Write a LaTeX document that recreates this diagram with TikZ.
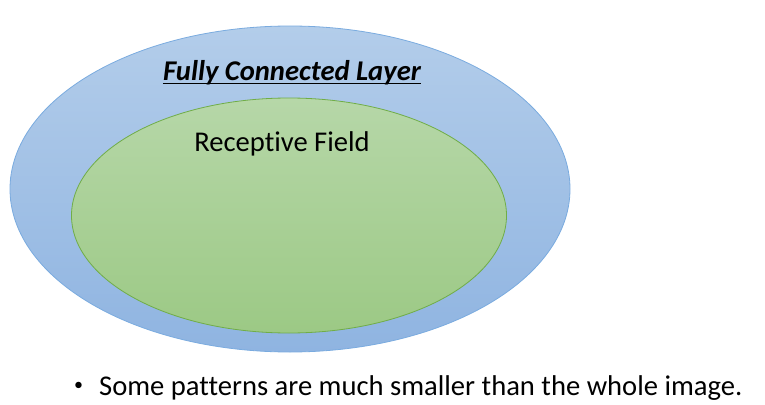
\documentclass[tikz,border=0pt]{standalone}
\usepackage{fontspec}
\setmainfont[Ligatures=NoCommon]{Carlito}
\usetikzlibrary{shapes.geometric}
\definecolor{outerTop}{HTML}{B3CDEA}
\definecolor{outerBot}{HTML}{8FB4E1}
\definecolor{outerLine}{HTML}{7AABDF}
\definecolor{innerTop}{HTML}{B6D7A8}
\definecolor{innerBot}{HTML}{9CC985}
\definecolor{innerLine}{HTML}{70AD47}
\tikzset{
  outerell/.style={ellipse, draw=outerLine, line width=0.8pt, top color=outerTop, bottom color=outerBot, inner sep=0pt},
  innerell/.style={ellipse, draw=innerLine, line width=0.8pt, top color=innerTop, bottom color=innerBot, inner sep=0pt},
  lbl/.style={inner sep=0pt, anchor=base, font=\fontsize{28.6}{32}\selectfont},
}
\begin{document}
\begin{tikzpicture}[x=1pt,y=1pt]
\useasboundingbox (0,0) rectangle (765,-404);
\node[outerell, minimum width=560pt, minimum height=326pt] (outer) at (290,-189) {};
\node[innerell, minimum width=435pt, minimum height=235pt] (inner) at (289,-215.5) {};
\node[lbl, font=\fontsize{28.6}{32}\selectfont\bfseries\itshape] (title) at (292,-80) {Fully Connected Layer};
\draw[line width=1pt] ([yshift=-3pt]title.base west) -- ([yshift=-3pt]title.base east);
\node[lbl] (rf) at (282,-151) {Receptive Field};
\node[lbl, anchor=base west] (bullet) at (74,-395) {\raisebox{5pt}{\fontsize{18}{20}\selectfont\textbullet}\hspace{16pt}Some patterns are much smaller than the whole image.};
\end{tikzpicture}
\end{document}
